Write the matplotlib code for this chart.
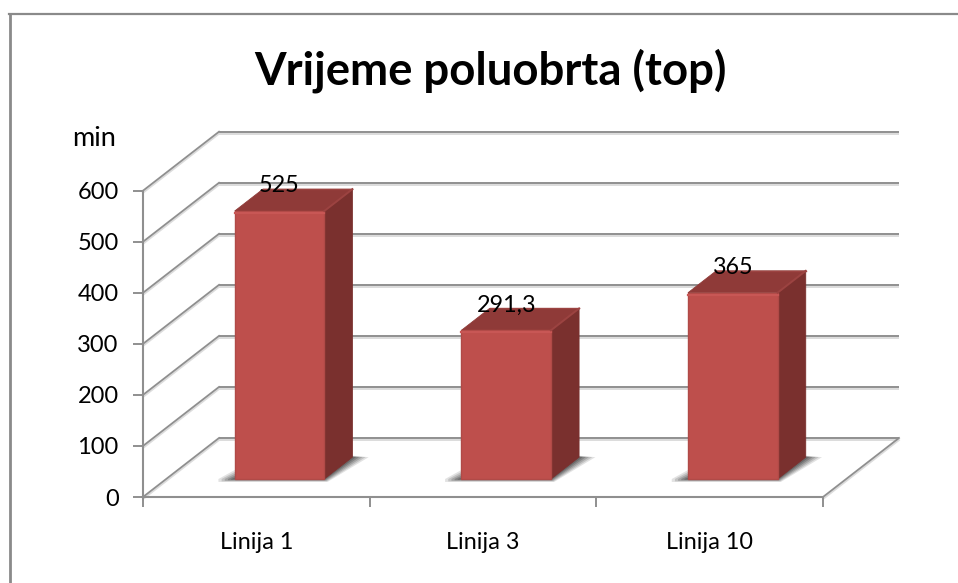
import matplotlib
matplotlib.use("Agg")
import matplotlib.pyplot as plt
from matplotlib.patches import Polygon
from matplotlib.lines import Line2D
import matplotlib.patheffects as pe

plt.rcParams['font.family'] = ['Lato', 'DejaVu Sans']

categories = ['Linija 1', 'Linija 3', 'Linija 10']
values = [525, 291.3, 365]
value_labels = ['525', '291,3', '365']
y_ticks = [0, 100, 200, 300, 400, 500, 600]
title = 'Vrijeme poluobrta (top)'
unit = 'min'

W, H = 958, 583
fig = plt.figure(figsize=(W / 100, H / 100), dpi=100)
L, R, B, T = 143, 823, 497, 190.7
ax = fig.add_axes([L / W, 1 - B / H, (R - L) / W, (B - T) / H])
ax.set_xlim(0, len(categories))
ax.set_ylim(0, 600)
ax.patch.set_alpha(0)

DX = 76 / ((R - L) / 3)      # wall depth in category units
DY = 59 / ((B - T) / 600)    # wall depth in value units
GRID = '#8f8f8f'
shadow = [pe.SimpleLineShadow(offset=(0, -1.5), shadow_color='#dcdcdc', alpha=1), pe.Normal()]


def proj(x, y, d):
    return (x + DX * d, y + DY * d)


for v in y_ticks:
    ax.plot([0 + DX, len(categories) + DX], [v + DY, v + DY], color=GRID, lw=1.4, clip_on=False,
            zorder=1, solid_capstyle='butt', path_effects=shadow)
    ax.plot([0, DX], [v, v + DY], color=GRID, lw=1.3, clip_on=False, zorder=1, path_effects=shadow)
ax.plot([len(categories), len(categories) + DX], [0, DY], color=GRID, lw=1.3, clip_on=False,
        zorder=1, path_effects=shadow)

BW, D0, D1 = 0.395, 0.305, 0.675
for i, (val, lab) in enumerate(zip(values, value_labels)):
    c = i + 0.5
    x0, x1 = c - BW / 2, c + BW / 2
    # soft floor shadow
    for e, a in [(0.072, 0.14), (0.058, 0.18), (0.044, 0.22), (0.03, 0.28), (0.016, 0.34)]:
        s = Polygon([proj(x0 - e, -e * 80, D0), proj(x1 + e * 0.2, -e * 80, D0),
                     proj(x1 + e, 0, D1), proj(x1, e * 40, D1),
                     proj(x0 + 0.01, e * 280, D0), proj(x0 - e, 0, D0)],
                    closed=True, fc='#383838', ec='none', alpha=a, zorder=2, clip_on=False)
        ax.add_patch(s)
    ax.add_patch(Polygon([proj(x1, 0, D0), proj(x1, 0, D1), proj(x1, val, D1), proj(x1, val, D0)],
                         fc='#7A302E', ec='#7A302E', lw=0.6, joinstyle='round', zorder=3, clip_on=False))
    ax.add_patch(Polygon([proj(x0, val, D0), proj(x1, val, D0), proj(x1, val, D1), proj(x0, val, D1)],
                         fc='#8F3A38', ec='#8F3A38', lw=0.6, joinstyle='round', zorder=3, clip_on=False))
    ax.add_patch(Polygon([proj(x0, 0, D0), proj(x1, 0, D0), proj(x1, val, D0), proj(x0, val, D0)],
                         fc='#BE4F4C', ec='#B04A47', lw=1.0, joinstyle='round', zorder=4, clip_on=False))
    # bevel highlights
    ax.plot([proj(x0, val, D0)[0], proj(x1, val, D0)[0]], [proj(x0, val, D0)[1] - 4] * 2,
            color='#C85755', lw=1.6, zorder=5, clip_on=False)
    ax.plot([proj(x1, val, D0)[0], proj(x1, val, D1)[0]], [proj(x1, val, D0)[1], proj(x1, val, D1)[1]],
            color='#9C4341', lw=1.4, zorder=5, clip_on=False)
    ax.plot([proj(x0, val, D1)[0], proj(x1, val, D1)[0]], [proj(x0, val, D1)[1]] * 2,
            color='#9C4341', lw=1.0, zorder=5, clip_on=False)
    tx, ty = proj(c, val, D0)
    ax.text(tx, ty + 49, lab, ha='center', va='center', fontsize=16.8, color='black', zorder=6)

ax.set_xticks(range(len(categories) + 1))
ax.set_xticklabels([])
ax.set_xticks([i + 0.5 for i in range(len(categories))], minor=True)
ax.set_xticklabels(categories, minor=True, fontsize=16.8)
ax.tick_params(axis='x', which='major', length=7, width=1.4, color=GRID, direction='out')
ax.tick_params(axis='x', which='minor', length=0, pad=25)
ax.set_yticks(y_ticks)
ax.set_yticklabels([str(v) for v in y_ticks], fontsize=17)
ax.tick_params(axis='y', length=7, width=1.4, color=GRID, pad=10.5)
for s in ('top', 'right'):
    ax.spines[s].set_visible(False)
for s in ('left', 'bottom'):
    ax.spines[s].set_color(GRID)
    ax.spines[s].set_linewidth(1.5)

fig.text(94 / W, 1 - 139 / H, unit, ha='center', va='center', fontsize=19.5)
fig.text(490 / W, 1 - 71 / H, title, ha='center', va='center', fontsize=32.8, fontweight='bold')

fig.add_artist(Line2D([10 / W, 10 / W], [0, 1 - 14 / H], color='#8a8a8a', lw=2.0))
fig.add_artist(Line2D([9 / W, 1], [1 - 14 / H, 1 - 14 / H], color='#8a8a8a', lw=1.6))

fig.savefig('out.png', dpi=100)
